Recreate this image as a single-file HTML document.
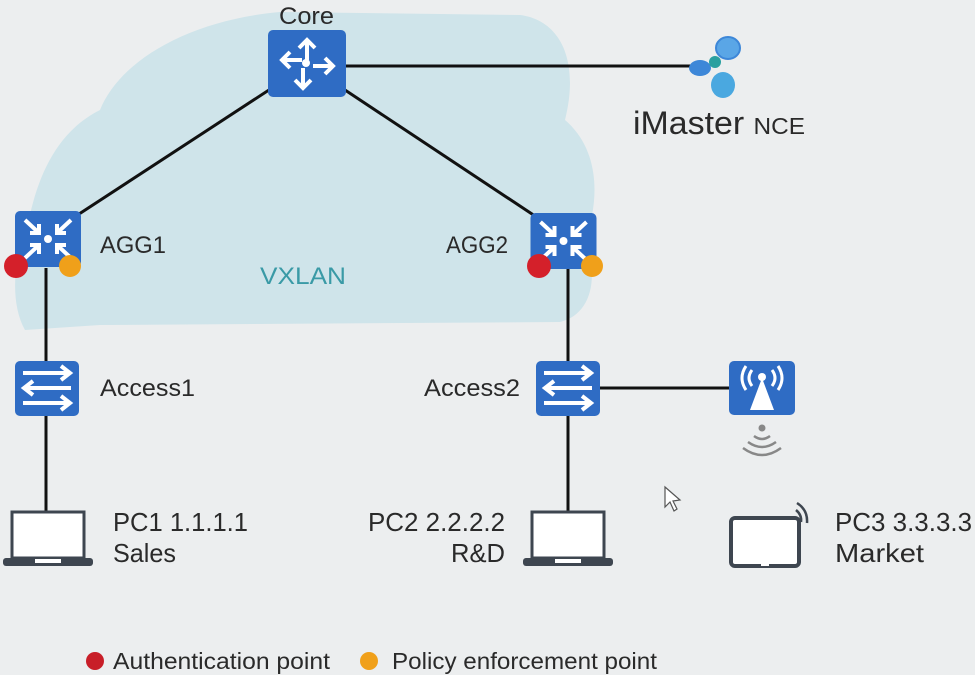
<!DOCTYPE html>
<html><head><style>
html,body{margin:0;padding:0;background:#eceeef;}
svg{display:block;}
text{font-family:"Liberation Sans","DejaVu Sans",sans-serif;fill:#2a2a2a;}
</style></head><body>
<svg width="975" height="675" viewBox="0 0 975 675" xmlns="http://www.w3.org/2000/svg">
<defs>
<symbol id="agg" viewBox="0 0 66 56">
<rect x="0" y="0" width="66" height="56" rx="5" fill="#2f6cc4"/>
<g stroke="#fff" stroke-width="4" fill="none">
<path d="M10 9 L24 22 M24 13 V22 H15"/><path d="M56 9 L42 22 M42 13 V22 H51"/>
<path d="M10 47 L24 34 M24 43 V34 H15"/><path d="M56 47 L42 34 M42 43 V34 H51"/>
</g><circle cx="33" cy="28" r="4" fill="#fff"/>
</symbol>
<symbol id="acc" viewBox="0 0 64 55">
<rect x="0" y="0" width="64" height="55" rx="5" fill="#2f6cc4"/>
<g stroke="#fff" stroke-width="4" fill="none">
<path d="M8 12 H54 M46 5 L55 12 L46 19"/><path d="M56 27 H10 M18 20 L9 27 L18 34"/><path d="M8 42 H54 M46 35 L55 42 L46 49"/>
</g></symbol>
<symbol id="lap" viewBox="0 0 90 58">
<rect x="9" y="2" width="72" height="46" fill="#fff" stroke="#3e4650" stroke-width="3"/>
<rect x="0" y="48" width="90" height="8" rx="3" fill="#3e4650"/>
<rect x="32" y="49" width="26" height="4" fill="#fff"/>
</symbol>
</defs>
<!-- cloud -->
<path d="M25 330 C8 300 15 250 30 215 C40 170 60 130 100 110 C120 60 190 20 280 12 L520 15 C560 20 580 60 565 120 C600 150 600 200 585 240 C600 280 590 315 560 322 L100 325 Z" fill="#cfe4ea"/>
<!-- lines -->
<g stroke="#111" stroke-width="3" fill="none">
<line x1="272" y1="88" x2="76" y2="216"/>
<line x1="342" y1="88" x2="538" y2="218"/>
<line x1="346" y1="66" x2="698" y2="66"/>
<line x1="46" y1="268" x2="46" y2="512"/>
<line x1="568" y1="268" x2="568" y2="512"/>
<line x1="600" y1="388" x2="730" y2="388"/>
</g>
<!-- core -->
<rect x="268" y="30" width="78" height="67" rx="5" fill="#2f6cc4"/>
<g stroke="#fff" stroke-width="4" fill="none">
<path d="M307 40 V60 M299 48 L307 40 L315 48"/>
<path d="M303 88 V68 M295 80 L303 88 L311 80"/>
<path d="M282 60 H302 M290 52 L282 60 L290 68"/>
<path d="M333 66 H313 M325 58 L333 66 L325 74"/>
</g><circle cx="306" cy="63" r="4" fill="#fff"/>
<text x="279" y="24" font-size="24" textLength="55" lengthAdjust="spacingAndGlyphs">Core</text>
<!-- iMaster -->
<ellipse cx="728" cy="48" rx="12" ry="11" fill="#5aa6e6" stroke="#3d87d8" stroke-width="2"/>
<ellipse cx="700" cy="68" rx="11" ry="8" fill="#3d87d8"/>
<ellipse cx="723" cy="85" rx="12" ry="13" fill="#4aa8e0"/>
<circle cx="715" cy="62" r="6" fill="#2aa0a0"/>
<text x="633" y="134" font-size="32" fill="#222" textLength="172" lengthAdjust="spacingAndGlyphs">iMaster <tspan font-size="23">NCE</tspan></text>
<!-- agg -->
<use href="#agg" x="15" y="211" width="66" height="56"/>
<use href="#agg" x="530" y="213" width="67" height="56"/>
<circle cx="16" cy="266" r="12" fill="#d4202a"/><circle cx="70" cy="266" r="11" fill="#f0a01a"/>
<circle cx="539" cy="266" r="12" fill="#d4202a"/><circle cx="592" cy="266" r="11" fill="#f0a01a"/>
<text x="100" y="253" font-size="24" textLength="66" lengthAdjust="spacingAndGlyphs">AGG1</text>
<text x="446" y="253" font-size="24" textLength="62" lengthAdjust="spacingAndGlyphs">AGG2</text>
<text x="260" y="284" font-size="24" style="fill:#3a9aa6" textLength="86" lengthAdjust="spacingAndGlyphs">VXLAN</text>
<!-- access -->
<use href="#acc" x="15" y="361" width="64" height="55"/>
<use href="#acc" x="535" y="361" width="66" height="55"/>
<text x="100" y="396" font-size="24" textLength="95" lengthAdjust="spacingAndGlyphs">Access1</text>
<text x="424" y="396" font-size="24" textLength="96" lengthAdjust="spacingAndGlyphs">Access2</text>
<!-- AP -->
<rect x="729" y="361" width="66" height="54" rx="5" fill="#2f6cc4"/>
<path d="M762 378 L750 410 H774 Z" fill="#fff"/>
<circle cx="762" cy="377" r="4" fill="#fff"/>
<g stroke="#fff" stroke-width="3" fill="none">
<path d="M752 370 Q746 378 752 386"/><path d="M746 366 Q738 378 746 390"/>
<path d="M772 370 Q778 378 772 386"/><path d="M778 366 Q786 378 778 390"/>
</g>
<circle cx="762" cy="428" r="3.5" fill="#888"/>
<g stroke="#888" stroke-width="2.5" fill="none">
<path d="M754 436 Q762 442 770 436"/><path d="M748 442 Q762 452 776 442"/><path d="M743 448 Q762 462 781 448"/>
</g>
<!-- laptops -->
<use href="#lap" x="3" y="510" width="90" height="58"/>
<use href="#lap" x="523" y="510" width="90" height="58"/>
<rect x="731" y="518" width="68" height="48" rx="4" fill="#fff" stroke="#3e4650" stroke-width="4"/>
<rect x="761" y="561" width="8" height="5" fill="#fff"/>
<g stroke="#3e4650" stroke-width="2.5" fill="none"><path d="M796 510 Q802 515 801 522"/><path d="M797 503 Q808 510 807 523"/></g>
<text x="113" y="531" font-size="26" textLength="135" lengthAdjust="spacingAndGlyphs">PC1  1.1.1.1</text>
<text x="113" y="562" font-size="26" textLength="63" lengthAdjust="spacingAndGlyphs">Sales</text>
<text x="368" y="531" font-size="26" textLength="137" lengthAdjust="spacingAndGlyphs">PC2  2.2.2.2</text>
<text x="451" y="562" font-size="26" textLength="54" lengthAdjust="spacingAndGlyphs">R&amp;D</text>
<text x="835" y="531" font-size="26" textLength="137" lengthAdjust="spacingAndGlyphs">PC3 3.3.3.3</text>
<text x="835" y="562" font-size="26" textLength="89" lengthAdjust="spacingAndGlyphs">Market</text>
<!-- legend -->
<circle cx="95" cy="661" r="9" fill="#c81e28"/>
<text x="113" y="669" font-size="23" textLength="217" lengthAdjust="spacingAndGlyphs">Authentication point</text>
<circle cx="369" cy="661" r="9" fill="#f0a01a"/>
<text x="392" y="669" font-size="23" textLength="265" lengthAdjust="spacingAndGlyphs">Policy enforcement point</text>
<!-- cursor -->
<path d="M665 487 L665 507 L670 502 L674 511 L677 509 L673 501 L680 500 Z" fill="#fff" stroke="#555" stroke-width="1.2"/>
</svg>
</body></html>
